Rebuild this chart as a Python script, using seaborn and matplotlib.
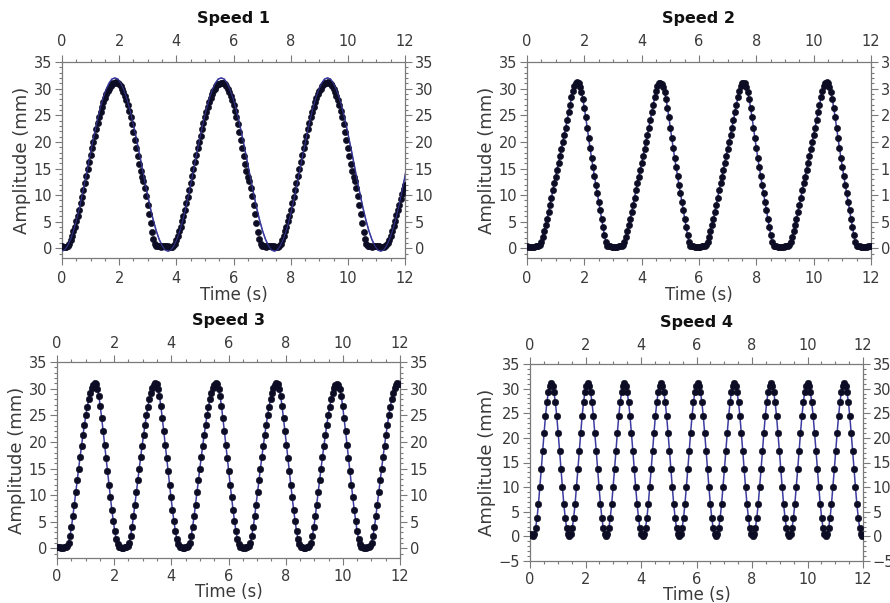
import numpy as np
import pandas as pd
import matplotlib
matplotlib.use("Agg")
import matplotlib.pyplot as plt
import seaborn as sns
from matplotlib.ticker import MultipleLocator

sns.set_theme(style="white")
plt.rcParams['font.family'] = ['DejaVu Sans']

# ---------------- data ----------------
titles = ["Speed 1", "Speed 2", "Speed 3", "Speed 4"]

# sampling interval of the measured points (s) for each speed
dot_step = [0.05, 0.05, 0.050476, 0.050769]

amp1 = [
    0.4, 0.3, 0.2, 0.3, 0.5, 0.9, 1.6, 2.4, 3.2, 4.1,
    5.1, 6.1, 7.3, 8.5, 9.7, 11.0, 12.3, 13.6, 14.9, 16.2,
    17.5, 18.8, 20.0, 21.2, 22.4, 23.5, 24.6, 25.6, 26.5, 27.4,
    28.2, 28.9, 29.5, 30.0, 30.5, 30.8, 31.0, 31.1, 31.2, 31.1,
    30.9, 30.5, 30.0, 29.4, 28.6, 27.8, 26.9, 25.8, 24.6, 23.3,
    21.9, 20.4, 18.9, 17.3, 15.8, 14.5, 13.5, 12.6, 11.4, 9.8,
    8.1, 6.4, 4.7, 3.1, 1.8, 0.9, 0.5, 0.4, 0.4, 0.3,
    0.4, 0.5, 0.4, 0.4,
    0.4, 0.3, 0.3, 0.3, 0.5, 0.9, 1.6, 2.4, 3.2, 4.1,
    5.1, 6.1, 7.3, 8.5, 9.7, 11.0, 12.3, 13.6, 14.9, 16.2,
    17.5, 18.8, 20.0, 21.2, 22.4, 23.5, 24.6, 25.6, 26.5, 27.4,
    28.2, 28.9, 29.5, 30.0, 30.5, 30.8, 30.9, 31.0, 31.1, 31.0,
    30.8, 30.5, 30.0, 29.4, 28.6, 27.8, 26.9, 25.8, 24.6, 23.3,
    21.9, 20.4, 18.9, 17.3, 15.8, 14.5, 13.5, 12.6, 11.4, 9.8,
    8.1, 6.4, 4.7, 3.1, 1.8, 0.9, 0.5, 0.4, 0.4, 0.3,
    0.4, 0.5, 0.4, 0.4,
    0.4, 0.3, 0.2, 0.3, 0.5, 0.9, 1.6, 2.4, 3.2, 4.1,
    5.1, 6.1, 7.3, 8.5, 9.7, 11.0, 12.3, 13.6, 14.9, 16.2,
    17.5, 18.8, 20.0, 21.2, 22.4, 23.5, 24.6, 25.6, 26.5, 27.4,
    28.2, 28.9, 29.5, 30.0, 30.5, 30.8, 31.0, 31.1, 31.2, 31.1,
    30.9, 30.5, 30.0, 29.4, 28.6, 27.8, 26.9, 25.8, 24.6, 23.3,
    21.9, 20.4, 18.9, 17.3, 15.8, 14.5, 13.5, 12.6, 11.4, 9.8,
    8.1, 6.4, 4.7, 3.1, 1.8, 0.9, 0.5, 0.4, 0.4, 0.3,
    0.4, 0.5, 0.4, 0.4,
    0.4, 0.3, 0.3, 0.3, 0.4, 0.6, 1.0, 1.6, 2.4, 3.3,
    4.2, 5.2, 6.2, 7.2, 8.2, 9.2, 10.2, 11.1, 12.0,
]

amp2 = [
    0.4, 0.3, 0.3, 0.2, 0.3, 0.3, 0.4, 0.4, 0.5, 0.7,
    1.2, 2.2, 3.3, 4.4, 5.5, 6.8, 8.1, 9.5, 10.9, 12.2,
    13.5, 14.8, 16.0, 17.3, 18.6, 19.9, 21.3, 22.7, 24.1, 25.6,
    27.0, 28.4, 29.6, 30.5, 31.0, 31.2, 31.0, 30.4, 29.4, 28.0,
    26.4, 24.6, 22.6, 20.7, 18.8, 17.0, 15.3, 13.6, 12.0, 10.4,
    8.8, 7.2, 5.6, 4.0, 2.5, 1.2, 0.5, 0.4,
    0.4, 0.3, 0.3, 0.2, 0.3, 0.3, 0.4, 0.4, 0.5, 0.7,
    1.2, 2.2, 3.3, 4.4, 5.5, 6.8, 8.1, 9.5, 10.9, 12.2,
    13.5, 14.8, 16.0, 17.3, 18.6, 19.9, 21.3, 22.7, 24.1, 25.6,
    27.0, 28.4, 29.6, 30.5, 31.0, 31.1, 30.9, 30.4, 29.4, 28.0,
    26.4, 24.6, 22.6, 20.7, 18.8, 17.0, 15.3, 13.6, 12.0, 10.4,
    8.8, 7.2, 5.6, 4.0, 2.5, 1.2, 0.5, 0.4,
    0.4, 0.3, 0.3, 0.2, 0.3, 0.3, 0.4, 0.4, 0.5, 0.7,
    1.2, 2.2, 3.3, 4.4, 5.5, 6.8, 8.1, 9.5, 10.9, 12.2,
    13.5, 14.8, 16.0, 17.3, 18.6, 19.9, 21.3, 22.7, 24.1, 25.6,
    27.0, 28.4, 29.6, 30.5, 31.0, 31.1, 31.0, 30.4, 29.4, 28.0,
    26.4, 24.6, 22.6, 20.7, 18.8, 17.0, 15.3, 13.6, 12.0, 10.4,
    8.8, 7.2, 5.6, 4.0, 2.5, 1.2, 0.5, 0.4,
    0.4, 0.3, 0.3, 0.2, 0.3, 0.3, 0.4, 0.4, 0.5, 0.7,
    1.2, 2.2, 3.3, 4.4, 5.5, 6.8, 8.1, 9.5, 10.9, 12.2,
    13.5, 14.8, 16.0, 17.3, 18.6, 19.9, 21.3, 22.7, 24.1, 25.6,
    27.0, 28.4, 29.6, 30.5, 31.0, 31.2, 31.0, 30.4, 29.4, 28.0,
    26.4, 24.6, 22.6, 20.7, 18.8, 17.0, 15.3, 13.6, 12.0, 10.4,
    8.8, 7.2, 5.6, 4.0, 2.5, 1.2, 0.5, 0.4,
    0.4, 0.3, 0.3, 0.2, 0.3, 0.3, 0.4, 0.4, 0.5,
]

amp3 = [
    0.2, 0.3, 0.2, 0.1, 0.1, 0.2, 0.3, 0.4, 1.0, 2.3,
    4.0, 6.0, 8.2, 10.5, 12.8, 15.0, 17.2, 19.3, 21.3, 23.2,
    25.0, 26.6, 28.0, 29.2, 30.1, 30.7,
    31.0, 30.8, 30.0, 28.6, 26.7, 24.4, 22.0, 19.5, 17.0, 14.5,
    12.0, 9.6, 7.3, 5.2, 3.3, 1.8, 0.8, 0.3, 0.2, 0.1,
    0.1, 0.2, 0.3, 0.4, 1.0, 2.3, 4.0, 6.0, 8.2, 10.5,
    12.8, 15.0, 17.2, 19.3, 21.3, 23.2, 25.0, 26.6, 28.0, 29.2,
    30.1, 30.7,
    31.0, 30.8, 30.0, 28.6, 26.7, 24.4, 22.0, 19.5, 17.0, 14.5,
    12.0, 9.6, 7.3, 5.2, 3.3, 1.8, 0.8, 0.3, 0.2, 0.1,
    0.1, 0.2, 0.3, 0.4, 1.0, 2.3, 4.0, 6.0, 8.2, 10.5,
    12.8, 15.0, 17.2, 19.3, 21.3, 23.2, 25.0, 26.6, 28.0, 29.2,
    30.1, 30.7,
    31.0, 30.8, 30.0, 28.6, 26.7, 24.4, 22.0, 19.5, 17.0, 14.5,
    12.0, 9.6, 7.3, 5.2, 3.3, 1.8, 0.8, 0.3, 0.2, 0.1,
    0.1, 0.2, 0.3, 0.4, 1.0, 2.3, 4.0, 6.0, 8.2, 10.5,
    12.8, 15.0, 17.2, 19.3, 21.3, 23.2, 25.0, 26.6, 28.0, 29.2,
    30.1, 30.7,
    31.0, 30.8, 30.0, 28.6, 26.7, 24.4, 22.0, 19.5, 17.0, 14.5,
    12.0, 9.6, 7.3, 5.2, 3.3, 1.8, 0.8, 0.3, 0.2, 0.1,
    0.1, 0.2, 0.3, 0.4, 1.0, 2.3, 4.0, 6.0, 8.2, 10.5,
    12.8, 15.0, 17.2, 19.3, 21.3, 23.2, 25.0, 26.6, 28.0, 29.2,
    30.1, 30.7,
    30.9, 30.7, 30.0, 28.6, 26.7, 24.4, 22.0, 19.5, 17.0, 14.5,
    12.0, 9.6, 7.3, 5.2, 3.3, 1.8, 0.8, 0.3, 0.2, 0.1,
    0.1, 0.2, 0.3, 0.4, 1.0, 2.3, 4.0, 6.0, 8.2, 10.5,
    12.8, 15.0, 17.2, 19.3, 21.3, 23.2, 25.0, 26.6, 28.0, 29.2,
    30.1, 30.7,
    31.0, 30.8,
]

amp4 = [
    0.3, 0.4, 0.0, 0.4, 1.7, 3.8, 6.6, 10.0, 13.6, 17.4,
    21.0, 24.4, 27.2, 29.3, 30.6,
    31.1, 30.6, 29.3, 27.2, 24.4, 21.0, 17.4, 13.6, 10.0, 6.6,
    3.8, 1.7, 0.4, 0.0, 0.4, 1.7, 3.8, 6.6, 10.0, 13.6,
    17.4, 21.0, 24.4, 27.2, 29.3, 30.6,
    31.1, 30.6, 29.3, 27.2, 24.4, 21.0, 17.4, 13.6, 10.0, 6.6,
    3.8, 1.7, 0.4, 0.0, 0.4, 1.7, 3.8, 6.6, 10.0, 13.6,
    17.4, 21.0, 24.4, 27.2, 29.3, 30.6,
    31.1, 30.6, 29.3, 27.2, 24.4, 21.0, 17.4, 13.6, 10.0, 6.6,
    3.8, 1.7, 0.4, 0.0, 0.4, 1.7, 3.8, 6.6, 10.0, 13.6,
    17.4, 21.0, 24.4, 27.2, 29.3, 30.6,
    31.1, 30.6, 29.3, 27.2, 24.4, 21.0, 17.4, 13.6, 10.0, 6.6,
    3.8, 1.7, 0.4, 0.0, 0.4, 1.7, 3.8, 6.6, 10.0, 13.6,
    17.4, 21.0, 24.4, 27.2, 29.3, 30.6,
    31.1, 30.6, 29.3, 27.2, 24.4, 21.0, 17.4, 13.6, 10.0, 6.6,
    3.8, 1.7, 0.4, 0.0, 0.4, 1.7, 3.8, 6.6, 10.0, 13.6,
    17.4, 21.0, 24.4, 27.2, 29.3, 30.6,
    31.1, 30.6, 29.3, 27.2, 24.4, 21.0, 17.4, 13.6, 10.0, 6.6,
    3.8, 1.7, 0.4, 0.0, 0.4, 1.7, 3.8, 6.6, 10.0, 13.6,
    17.4, 21.0, 24.4, 27.2, 29.3, 30.6,
    31.1, 30.6, 29.3, 27.2, 24.4, 21.0, 17.4, 13.6, 10.0, 6.6,
    3.8, 1.7, 0.4, 0.0, 0.4, 1.7, 3.8, 6.6, 10.0, 13.6,
    17.4, 21.0, 24.4, 27.2, 29.3, 30.6,
    31.1, 30.6, 29.3, 27.2, 24.4, 21.0, 17.4, 13.6, 10.0, 6.6,
    3.8, 1.7, 0.4, 0.0, 0.4, 1.7, 3.8, 6.6, 10.0, 13.6,
    17.4, 21.0, 24.4, 27.2, 29.3, 30.6,
    31.1, 30.6, 29.3, 27.2, 24.4, 21.0, 17.4, 13.6, 10.0, 6.6,
    3.8, 1.7, 0.4, 0.0,
]

# fitted curve of Speed 1 (drawn as a separate thin blue line)
fit1_start = -0.01
fit1_step = 0.10333
fit1 = [
    -0.5, -0.3, 0.5, 1.7, 3.3, 5.3, 7.6, 10.2, 12.9, 15.8,
    18.6, 21.3, 23.9, 26.2, 28.2, 29.8, 31.0, 31.8, 32.0, 31.8,
    31.0, 29.8, 28.2, 26.2, 23.9, 21.3, 18.6, 15.8, 12.9, 10.2,
    7.6, 5.3, 3.3, 1.7, 0.5, -0.3,
    -0.5, -0.3, 0.5, 1.7, 3.3, 5.3, 7.6, 10.2, 12.9, 15.8,
    18.6, 21.3, 23.9, 26.2, 28.2, 29.8, 31.0, 31.8, 32.0, 31.8,
    31.0, 29.8, 28.2, 26.2, 23.9, 21.3, 18.6, 15.8, 12.9, 10.2,
    7.6, 5.3, 3.3, 1.7, 0.5, -0.3,
    -0.5, -0.3, 0.5, 1.7, 3.3, 5.3, 7.6, 10.2, 12.9, 15.8,
    18.6, 21.3, 23.9, 26.2, 28.2, 29.8, 31.0, 31.8, 32.0, 31.8,
    31.0, 29.8, 28.2, 26.2, 23.9, 21.3, 18.6, 15.8, 12.9, 10.2,
    7.6, 5.3, 3.3, 1.7, 0.5, -0.3,
    -0.5, -0.3, 0.5, 1.7, 3.3, 5.3, 7.6, 10.2, 12.9, 15.8,
]

amps = [amp1, amp2, amp3, amp4]
ylims = [(-1.8, 35), (-1.8, 35), (-1.8, 35), (-5, 35)]

# ---------------- figure ----------------
W, H = 890, 603
fig = plt.figure(figsize=(W / 100, H / 100), dpi=100)
fig.patch.set_facecolor("white")

boxes_px = [(62, 405, 62, 258), (527, 871, 62, 258),
            (57, 400, 362, 558), (530, 863, 364, 561)]
xtick_pads = [4.5, 4.5, 3.0, 3.0]
xlabel_pads = [0, 0, -1, -1]

LINE_C = "#3c3ca0"
DOT_C = "#0c0c24"
TXT_C = "#3a3a3a"
AX_C = "#7a7a7a"
dot_sizes = [20, 20, 22, 22]

for k in range(4):
    l, r, t, b = boxes_px[k]
    ax = fig.add_axes([l / W, 1 - b / H, (r - l) / W, (b - t) / H])
    step = dot_step[k]
    tt = np.arange(len(amps[k])) * step
    dots = pd.DataFrame({"t": tt, "amp": amps[k]})
    if k == 0:
        line = pd.DataFrame({"t": fit1_start + np.arange(len(fit1)) * fit1_step,
                             "amp": fit1})
    else:
        line = dots
    sns.lineplot(data=line, x="t", y="amp", ax=ax, color=LINE_C, lw=1.1,
                 sort=False, estimator=None, zorder=2)
    sns.scatterplot(data=dots, x="t", y="amp", ax=ax, color=DOT_C, s=dot_sizes[k],
                    marker="o", edgecolor=DOT_C, linewidth=0.4, zorder=3)
    if k == 0:
        sns.lineplot(data=line, x="t", y="amp", ax=ax, color=LINE_C, lw=0.8,
                     alpha=0.8, sort=False, estimator=None, zorder=4)

    ax.set_xlim(0, 12)
    ax.set_ylim(*ylims[k])
    ax.xaxis.set_major_locator(MultipleLocator(2))
    ax.xaxis.set_minor_locator(MultipleLocator(0.5))
    ax.yaxis.set_major_locator(MultipleLocator(5))
    ax.yaxis.set_minor_locator(MultipleLocator(1))
    ax.tick_params(which="both", direction="out", top=True, right=True,
                   bottom=True, left=True, labeltop=True, labelright=True,
                   labelbottom=True, labelleft=True, color=AX_C,
                   labelcolor=TXT_C, labelsize=10.5, width=0.8)
    ax.tick_params(which="major", length=5, pad=2)
    ax.tick_params(axis="x", which="major", pad=xtick_pads[k])
    ax.tick_params(which="minor", length=2.5)
    for sp in ax.spines.values():
        sp.set_color(AX_C)
        sp.set_linewidth(0.9)
    ax.set_xlabel("Time (s)", fontsize=12, color=TXT_C, labelpad=xlabel_pads[k])
    ax.set_ylabel("Amplitude (mm)", fontsize=13, color=TXT_C, labelpad=2)
    ax.set_title(titles[k], fontsize=11.5, fontweight="bold", color="#111111", pad=8)
    ax.grid(False)

fig.savefig("out.png", dpi=100, facecolor="white")
